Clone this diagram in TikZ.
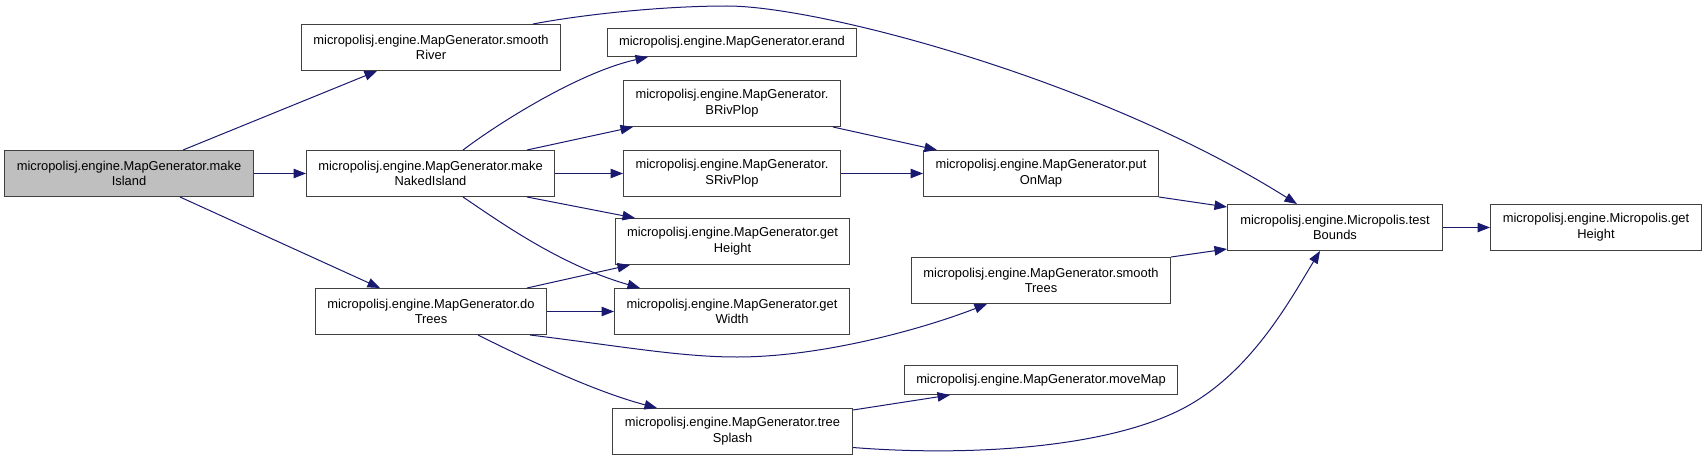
\documentclass[tikz,border=0pt]{standalone}
\usepackage{fontspec}
\setmainfont{Liberation Sans}
\usetikzlibrary{arrows.meta}
\definecolor{edgecol}{HTML}{191970}
\definecolor{nodegray}{HTML}{BFBFBF}
\definecolor{bordercol}{HTML}{404040}
\begin{document}
\begin{tikzpicture}[x=1pt,y=-1pt,
  fn/.style={draw=bordercol, line width=1pt, fill=white, rectangle, inner sep=0pt, align=center, font=\fontsize{12.9}{15.7}\selectfont},
  cg/.style={draw=edgecol, line width=1pt, -{Triangle[length=12.5pt,width=9.5pt]}},
]
\useasboundingbox[fill=white] (0,0) rectangle (1707,460);
\node[fn,fill=nodegray,minimum width=249pt,minimum height=46pt] (mi) at (129,173.5) {micropolisj.engine.MapGenerator.make\\Island};
\node[fn,minimum width=259pt,minimum height=46pt] (sr) at (431,47.5) {micropolisj.engine.MapGenerator.smooth\\River};
\node[fn,minimum width=248pt,minimum height=46pt] (mni) at (430.5,173.5) {micropolisj.engine.MapGenerator.make\\NakedIsland};
\node[fn,minimum width=231pt,minimum height=46pt] (dt) at (431,311.5) {micropolisj.engine.MapGenerator.do\\Trees};
\node[fn,minimum width=249pt,minimum height=28pt] (er) at (732,42.5) {micropolisj.engine.MapGenerator.erand};
\node[fn,minimum width=217pt,minimum height=46pt] (br) at (732,103.5) {micropolisj.engine.MapGenerator.\\BRivPlop};
\node[fn,minimum width=217pt,minimum height=46pt] (srp) at (732,173.5) {micropolisj.engine.MapGenerator.\\SRivPlop};
\node[fn,minimum width=234pt,minimum height=46pt] (gh) at (732.5,241.5) {micropolisj.engine.MapGenerator.get\\Height};
\node[fn,minimum width=235pt,minimum height=46pt] (gw) at (732,311.5) {micropolisj.engine.MapGenerator.get\\Width};
\node[fn,minimum width=240pt,minimum height=46pt] (ts) at (732.5,431.5) {micropolisj.engine.MapGenerator.tree\\Splash};
\node[fn,minimum width=235pt,minimum height=46pt] (pom) at (1041,173.5) {micropolisj.engine.MapGenerator.put\\OnMap};
\node[fn,minimum width=259pt,minimum height=46pt] (st) at (1041,280.5) {micropolisj.engine.MapGenerator.smooth\\Trees};
\node[fn,minimum width=273pt,minimum height=29pt] (mm) at (1041,380) {micropolisj.engine.MapGenerator.moveMap};
\node[fn,minimum width=215pt,minimum height=46pt] (tb) at (1335,227.5) {micropolisj.engine.Micropolis.test\\Bounds};
\node[fn,minimum width=211pt,minimum height=46pt] (mgh) at (1596,227.5) {micropolisj.engine.Micropolis.get\\Height};

\draw[cg] ([xshift=54pt]mi.north) -- ([xshift=-54pt]sr.south);
\draw[cg] (mi.east) -- (mni.west);
\draw[cg] ([xshift=51pt]mi.south) -- ([xshift=-51pt]dt.north);
\draw[cg] ([xshift=102pt]sr.north) .. controls (580,15) and (660,6) .. (727,6) .. controls (820,6) and (1100,80) .. ([xshift=-38pt]tb.north);
\draw[cg] ([xshift=32.5pt]mni.north) .. controls (500,122) and (580,72) .. ([xshift=-84pt]er.south);
\draw[cg] ([xshift=96.5pt]mni.north) -- ([xshift=-99pt]br.south);
\draw[cg] (mni.east) -- (srp.west);
\draw[cg] ([xshift=96.5pt]mni.south) -- ([xshift=-97.5pt]gh.north);
\draw[cg] ([xshift=32.5pt]mni.south) .. controls (500,222) and (560,265) .. ([xshift=-92pt]gw.north);
\draw[cg] ([xshift=101pt]br.south) -- ([xshift=-104pt]pom.north);
\draw[cg] (srp.east) -- (pom.west);
\draw[cg] (pom.south east) -- ([yshift=-3pt]tb.north west);
\draw[cg] (tb.east) -- (mgh.west);
\draw[cg] ([xshift=96pt]dt.north) -- ([xshift=-102.5pt]gh.south);
\draw[cg] (dt.east) -- (gw.west);
\draw[cg] ([xshift=99pt]dt.south) .. controls (620,346) and (680,357) .. (737,357) .. controls (820,357) and (920,330) .. ([xshift=-54pt]st.south);
\draw[cg] ([xshift=47pt]dt.south) .. controls (540,366) and (600,393) .. ([xshift=-75.5pt]ts.north);
\draw[cg] (st.north east) -- ([yshift=2pt]tb.south west);
\draw[cg] ([yshift=-2pt]ts.north east) -- ([xshift=-91pt]mm.south);
\draw[cg] ([yshift=-16pt]ts.east) .. controls (960,456) and (1100,450) .. (1180,410) .. controls (1250,375) and (1290,300) .. ([xshift=-15pt]tb.south);
\end{tikzpicture}
\end{document}
